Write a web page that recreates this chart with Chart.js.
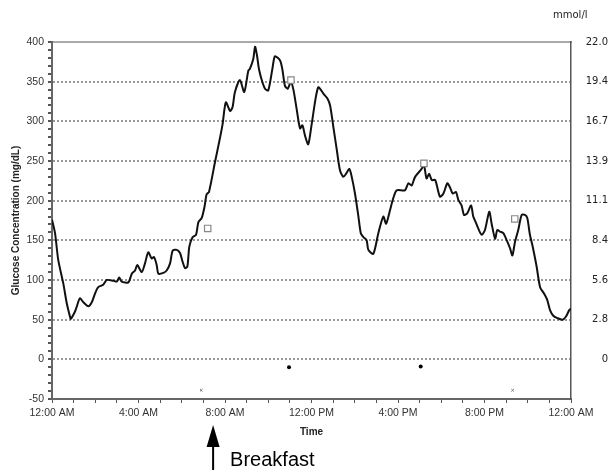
<!DOCTYPE html>
<html>
<head>
<meta charset="utf-8">
<script src="https://cdn.jsdelivr.net/npm/chart.js@4/dist/chart.umd.min.js"></script>
<style>
  html, body { margin: 0; padding: 0; background: #fff; }
  #myChart { display: block; }
</style>
</head>
<body>
<canvas id="myChart" width="608" height="470"></canvas>
<script>
// glucose trace: hour of day -> mg/dL
const glucoseHours = [
  0, 0.14, 0.29, 0.52, 0.68, 0.83, 0.87, 1.06, 1.14, 1.29, 1.45, 1.68, 1.84, 1.99,
  2.14, 2.37, 2.53, 2.84, 2.99, 3.11, 3.22, 3.53, 3.69, 3.84, 3.94, 4.15, 4.3, 4.45,
  4.61, 4.72, 4.84, 4.92, 5.15, 5.3, 5.46, 5.58, 5.77, 5.92, 6.04, 6.15, 6.26, 6.35,
  6.5, 6.66, 6.77, 6.92, 7.05, 7.15, 7.26, 7.54, 7.7, 7.88, 8.04, 8.24, 8.35, 8.46,
  8.69, 8.89, 9.08, 9.15, 9.31, 9.39, 9.48, 9.57, 9.7, 9.85, 10.0, 10.19, 10.31,
  10.54, 10.65, 10.77, 10.9, 11.05, 11.17, 11.31, 11.47, 11.58, 11.7, 11.85, 12.0,
  12.19, 12.31, 12.4, 12.55, 12.73, 12.86, 13.01, 13.17, 13.32, 13.47, 13.6, 13.75,
  13.86, 14.01, 14.17, 14.28, 14.4, 14.55, 14.63, 14.86, 15.09, 15.32, 15.45, 15.63,
  15.78, 15.94, 16.32, 16.48, 16.63, 16.79, 17.09, 17.2, 17.32, 17.44, 17.56, 17.72,
  17.94, 18.1, 18.28, 18.4, 18.53, 18.68, 18.79, 18.94, 19.05, 19.2, 19.38, 19.48,
  19.59, 19.71, 19.87, 20.02, 20.22, 20.33, 20.49, 20.59, 20.72, 20.87, 21.03, 21.18,
  21.29, 21.41, 21.56, 21.72, 21.87, 21.98, 22.1, 22.23, 22.41, 22.57, 22.75, 22.9,
  23.03, 23.18, 23.37, 23.61, 23.77, 23.92, 24
];
const glucoseValues = [
  176, 159, 125, 96, 71, 54, 51, 60, 66, 77, 72, 67, 72, 83,
  91, 94, 100, 99, 98, 103, 98, 97, 108, 112, 119, 110, 121, 135,
  127, 129, 119, 108, 109, 112, 121, 137, 138, 134, 123, 115, 117, 142,
  154, 157, 173, 178, 192, 208, 211, 249, 270, 295, 324, 313, 318, 337,
  352, 337, 364, 366, 379, 394, 383, 366, 352, 341, 339, 366, 382,
  377, 366, 345, 341, 350, 339, 316, 291, 295, 282, 271, 295,
  329, 343, 341, 335, 329, 320, 293, 264, 238, 230, 234, 240,
  230, 209, 180, 159, 154, 150, 138, 133, 159, 180, 171, 188,
  203, 213, 213, 222, 219, 230, 240, 245, 228, 234, 226, 226,
  205, 209, 222, 217, 209, 211, 201, 194, 182, 184, 194, 180,
  173, 165, 157, 163, 186, 171, 152, 163, 161, 159, 150, 140,
  131, 148, 163, 182, 182, 178, 157, 142, 117, 91, 83, 75,
  62, 55, 52, 50, 54, 62, 64
];

// meter readings (squares), event dots and x markers
const meterHours = [7.2, 11.05, 17.2, 21.4];
const meterValues = [165, 352, 247, 177];
const dotHours = [10.96, 17.05];
const dotValues = [-10, -9];
const crossHours = [6.9, 21.3];
const crossValues = [-39, -39];

const breakfastHour = 7.45;

const timeLabels = ["12:00 AM", "4:00 AM", "8:00 AM", "12:00 PM", "4:00 PM", "8:00 PM", "12:00 AM"];
const mgTicks = [0, 50, 100, 150, 200, 250, 300, 350, 400];
const mmolLabels = ["0", "2.8", "5.6", "8.4", "11.1", "13.9", "16.7", "19.4", "22.0"];

const toPoints = (xs, ys) => xs.map((x, i) => ({ x: x, y: ys[i] }));

const labelFont = { family: "Liberation Sans", size: 10.5 };
const rightFont = { family: "DejaVu Sans", size: 10 };

const extras = {
  id: "extras",
  afterDraw(chart) {
    const ctx = chart.ctx;
    const xs = chart.scales.x;
    ctx.save();
    // mmol/l caption above the right axis
    ctx.fillStyle = "#222";
    ctx.font = "10px 'DejaVu Sans'";
    ctx.textAlign = "left";
    ctx.textBaseline = "middle";
    ctx.fillText("mmol/l", 553, 15);

    // breakfast arrow
    const bx = xs.getPixelForValue(breakfastHour);
    ctx.strokeStyle = "#000";
    ctx.fillStyle = "#000";
    ctx.lineWidth = 2;
    ctx.beginPath();
    ctx.moveTo(bx, 444);
    ctx.lineTo(bx, 470);
    ctx.stroke();
    ctx.beginPath();
    ctx.moveTo(bx, 425);
    ctx.lineTo(bx - 6.5, 447);
    ctx.lineTo(bx + 6.5, 447);
    ctx.closePath();
    ctx.fill();
    ctx.font = "20px 'Liberation Sans'";
    ctx.textBaseline = "alphabetic";
    ctx.fillText("Breakfast", bx + 17, 466);
    ctx.restore();
  },
};

const ctx = document.getElementById("myChart").getContext("2d");
window.myChart = new Chart(ctx, {
  type: "scatter",
  data: {
    datasets: [
      {
        type: "line",
        label: "Glucose",
        data: toPoints(glucoseHours, glucoseValues),
        borderColor: "#111",
        borderWidth: 2,
        pointRadius: 0,
        tension: 0.25,
        order: 2,
      },
      {
        label: "Meter",
        data: toPoints(meterHours, meterValues),
        pointStyle: "rect",
        pointRadius: 4.5,
        borderColor: "#888",
        backgroundColor: "#fff",
        borderWidth: 1.2,
        order: 1,
      },
      {
        label: "Events",
        data: toPoints(dotHours, dotValues),
        pointStyle: "circle",
        pointRadius: 2,
        borderColor: "#000",
        backgroundColor: "#000",
        borderWidth: 0,
      },
      {
        label: "Marks",
        data: toPoints(crossHours, crossValues),
        pointStyle: "crossRot",
        pointRadius: 1.8,
        borderColor: "#777",
        borderWidth: 1,
      },
    ],
  },
  options: {
    responsive: false,
    animation: false,
    layout: { padding: { top: 42, left: 0, right: 0, bottom: 31 } },
    plugins: {
      legend: { display: false },
      tooltip: { enabled: false },
    },
    scales: {
      x: {
        type: "linear",
        position: "bottom",
        min: 0,
        max: 24,
        afterFit: (s) => { s.height = 40; },
        ticks: {
          stepSize: 1,
          autoSkip: false,
          maxRotation: 0,
          color: "#333",
          font: labelFont,
          padding: 4,
          callback: (v) => (v % 4 === 0 ? timeLabels[v / 4] : ""),
        },
        grid: { drawOnChartArea: false, tickLength: 4, color: "#555", tickWidth: 1 },
        border: { color: "#666", width: 2 },
        title: {
          display: true,
          text: "Time",
          color: "#222",
          font: { family: "Liberation Sans", size: 10, weight: "bold" },
          padding: { top: 0, bottom: 1 },
        },
      },
      xTop: {
        type: "linear",
        position: "top",
        min: 0,
        max: 24,
        afterFit: (s) => { s.height = 0; },
        ticks: { display: false },
        grid: { display: false },
        border: { color: "#aaa", width: 2 },
      },
      y: {
        position: "left",
        min: -50,
        max: 400,
        afterFit: (s) => { s.width = 52; },
        ticks: {
          stepSize: 10,
          autoSkip: false,
          color: "#333",
          font: labelFont,
          padding: 4,
          callback: (v) => (v % 50 === 0 ? v : ""),
        },
        grid: {
          tickLength: 4,
          tickColor: "#555",
          lineWidth: 2,
          color: (c) => {
            const v = c.tick ? c.tick.value : 0;
            return v % 50 === 0 && v > -50 && v < 400 ? "#999" : "rgba(0,0,0,0)";
          },
        },
        border: { color: "#666", width: 2, dash: [2, 2] },
        title: {
          display: true,
          text: "Glucose Concentration (mg/dL)",
          color: "#222",
          font: { family: "Liberation Sans", size: 10, weight: "bold" },
          padding: { top: 10, bottom: 0 },
        },
      },
      y2: {
        position: "right",
        min: -50,
        max: 400,
        afterFit: (s) => { s.width = 37; },
        afterBuildTicks: (s) => { s.ticks = mgTicks.map((v) => ({ value: v })); },
        ticks: {
          autoSkip: false,
          color: "#222",
          font: rightFont,
          padding: 6,
          crossAlign: "far",
          callback: (v) => {
            const i = mgTicks.indexOf(v);
            return i >= 0 ? mmolLabels[i] : "";
          },
        },
        grid: { drawOnChartArea: false, drawTicks: false },
        border: { color: "#555", width: 1.5 },
      },
    },
  },
  plugins: [extras],
});
</script>
</body>
</html>
